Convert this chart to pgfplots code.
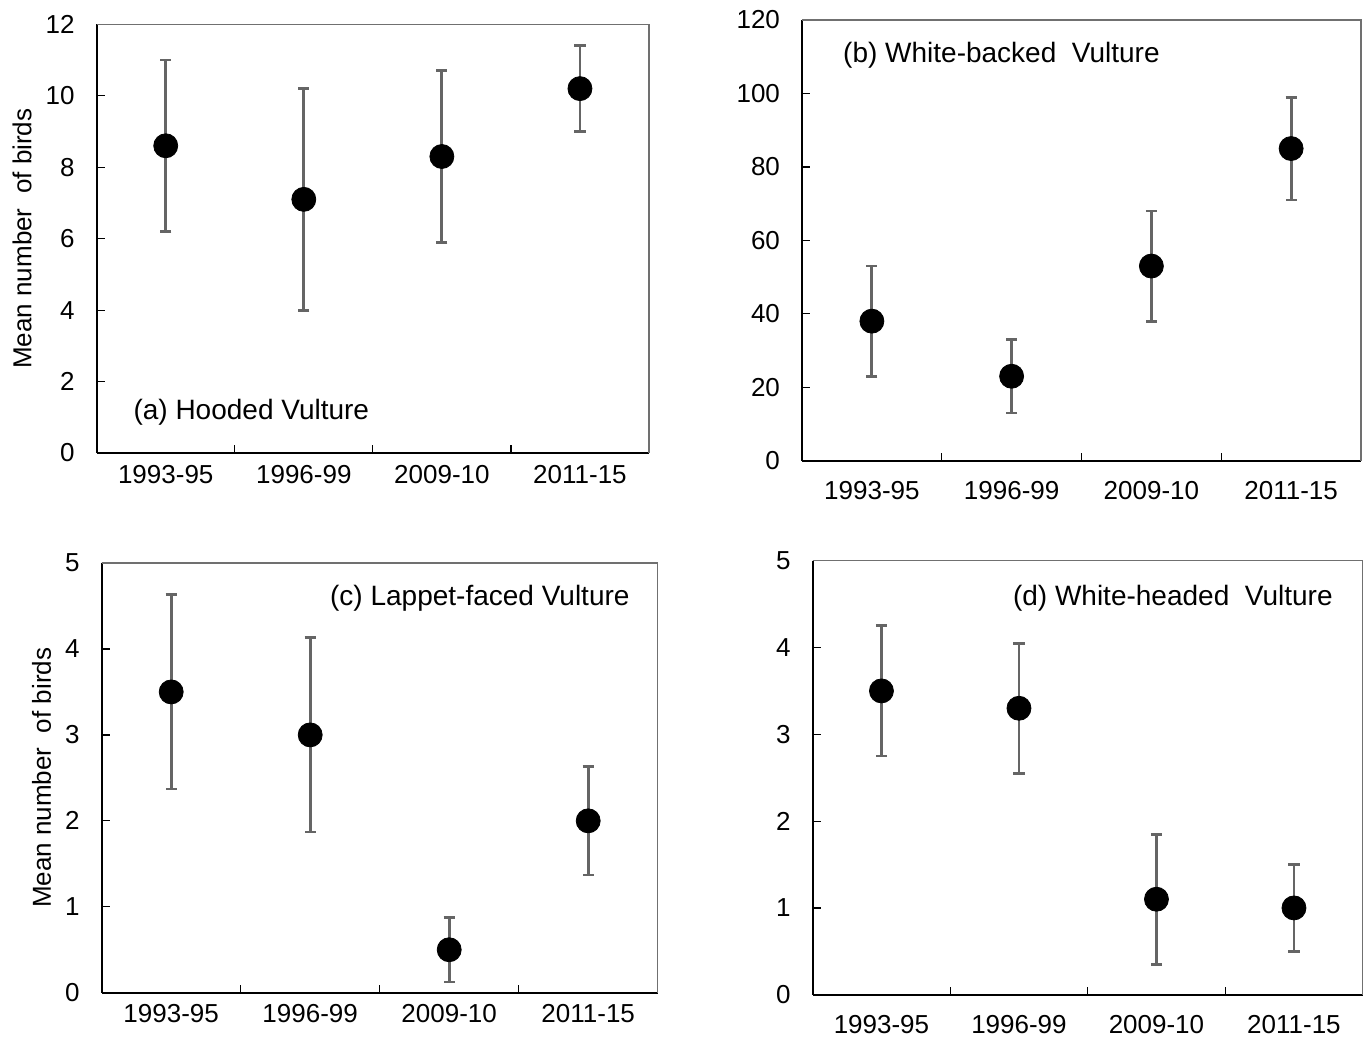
\documentclass[border=0pt]{standalone}
\usepackage{fontspec}
\setmainfont{Liberation Sans}
\usepackage{pgfplots}
\pgfplotsset{compat=1.18}
\definecolor{errgray}{HTML}{656565}
\definecolor{framegray}{HTML}{707070}
\tikzset{ann/.style={font=\fontsize{14}{16}\selectfont, inner sep=0pt}}
\pgfplotsset{
 vult/.style={
  scale only axis, xmin=0.5, xmax=4.5,
  axis x line*=bottom, axis y line*=left,
  axis line style={black, line width=1pt},
  tick align=inside, major tick length=4pt,
  tick style={black, line width=0.6pt},
  xtick={1.5,2.5,3.5}, xticklabels={},
  extra x ticks={1,2,3,4},
  extra x tick labels={1993-95,1996-99,2009-10,2011-15},
  extra x tick style={major tick length=0pt},
  ticklabel style={font=\fontsize{13}{15}\selectfont},
  yticklabel style={xshift=-7.5pt},
  /pgf/number format/assume math mode=true,
  ylabel style={font=\fontsize{13}{15}\selectfont, anchor=center},
  clip=false,
 },
 vplot/.style={only marks, mark=*, mark size=6pt, black,
  mark options={fill=black, draw=black},
  error bars/.cd, y dir=both, y explicit,
  error bar style={errgray, line width=1.4pt},
  error mark options={errgray, rotate=90, mark size=2.8pt, line width=1.4pt}},
}
\begin{document}
\begin{tikzpicture}
\useasboundingbox (0,0) rectangle (684.5pt,-519.5pt);
% (a)
\begin{axis}[vult, at={(48.35pt,-226.5pt)}, anchor=south west,
  width=276.15pt, height=214.35pt, ymin=0, ymax=12, ytick={0,2,...,12},
  xticklabel style={yshift=-2.5pt},
  ylabel={Mean number\ \ of birds},
  ylabel style={at={(axis description cs:-0.135,0.5)}}]
\addplot[vplot] coordinates {
 (1,8.6) +- (0,2.4)
 (2,7.1) +- (0,3.1)
 (3,8.3) +- (0,2.4)
 (4,10.2) +- (0,1.2)
};
\draw[framegray, line width=0.6pt] (rel axis cs:0,1) -- (rel axis cs:1,1) -- (rel axis cs:1,0);
\node[ann, anchor=west] at (rel axis cs:0.066,0.096) {(a) Hooded Vulture};
\end{axis}
% (b)
\begin{axis}[vult, at={(401pt,-230.35pt)}, anchor=south west,
  width=279.5pt, height=220.35pt, ymin=0, ymax=120, ytick={0,20,...,120},
  xticklabel style={yshift=-7pt}]
\addplot[vplot] coordinates {
 (1,38) +- (0,15)
 (2,23) +- (0,10)
 (3,53) +- (0,15)
 (4,85) +- (0,14)
};
\draw[framegray, line width=0.6pt] (rel axis cs:0,1) -- (rel axis cs:1,1) -- (rel axis cs:1,0);
\node[ann, anchor=west] at (rel axis cs:0.073,0.92) {(b) White-backed\ \ Vulture};
\end{axis}
% (c)
\begin{axis}[vult, at={(50.85pt,-496.35pt)}, anchor=south west,
  width=278pt, height=214.85pt, ymin=0, ymax=5, ytick={0,1,...,5},
  xticklabel style={yshift=-2.5pt},
  ylabel={Mean number\ \ of birds},
  ylabel style={at={(axis description cs:-0.108,0.5)}}]
\addplot[vplot] coordinates {
 (1,3.5) +- (0,1.13)
 (2,3.0) +- (0,1.13)
 (3,0.5) +- (0,0.375)
 (4,2.0) +- (0,0.63)
};
\draw[framegray, line width=0.6pt] (rel axis cs:0,1) -- (rel axis cs:1,1) -- (rel axis cs:1,0);
\node[ann, anchor=east] at (rel axis cs:0.95,0.9185) {(c) Lappet-faced Vulture};
\end{axis}
% (d)
\begin{axis}[vult, at={(406.35pt,-497.35pt)}, anchor=south west,
  width=275pt, height=217pt, ymin=0, ymax=5, ytick={0,1,...,5},
  xticklabel style={yshift=-7pt}]
\addplot[vplot] coordinates {
 (1,3.5) +- (0,0.75)
 (2,3.3) +- (0,0.75)
 (3,1.1) +- (0,0.75)
 (4,1.0) +- (0,0.5)
};
\draw[framegray, line width=0.6pt] (rel axis cs:0,1) -- (rel axis cs:1,1) -- (rel axis cs:1,0);
\node[ann, anchor=east] at (rel axis cs:0.946,0.914) {(d) White-headed\ \ Vulture};
\end{axis}
\end{tikzpicture}
\end{document}
